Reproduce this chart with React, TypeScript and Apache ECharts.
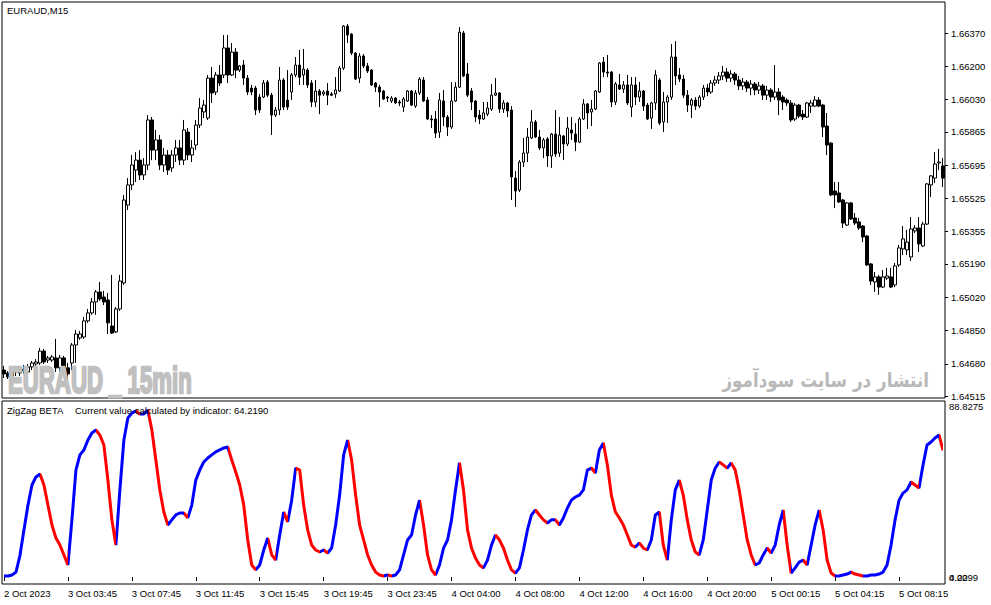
import React, { useEffect, useRef } from "react";
import * as echarts from "echarts";

const priceTicks = [1.6637, 1.662, 1.6603, 1.65865, 1.65695, 1.65525, 1.65355, 1.6519, 1.6502, 1.6485, 1.6468, 1.64515];
const timeTicks = ["2 Oct 2023", "3 Oct 03:45", "3 Oct 07:45", "3 Oct 11:45", "3 Oct 15:45", "3 Oct 19:45", "3 Oct 23:45", "4 Oct 04:00", "4 Oct 08:00", "4 Oct 12:00", "4 Oct 16:00", "4 Oct 20:00", "5 Oct 00:15", "5 Oct 04:15", "5 Oct 08:15"];

// EURAUD M15, price x 100000 : [open, close, low, high]
const ohlcPoints = [
  [164648,164628,164607,164669],[164633,164613,164602,164643],[164618,164638,164602,164659],[164638,164648,164618,164669],[164633,164659,164618,164669],
  [164653,164643,164628,164674],[164638,164664,164628,164679],[164664,164684,164648,164694],[164679,164689,164669,164704],[164684,164745,164674,164761],
  [164745,164689,164679,164756],[164699,164710,164684,164720],[164699,164715,164689,164725],[164710,164659,164638,164807],[164659,164710,164638,164725],
  [164710,164659,164638,164720],[164659,164628,164597,164684],[164684,164776,164648,164786],[164776,164832,164684,164853],[164812,164832,164802,164848],
  [164817,164899,164807,164919],[164899,164940,164889,164960],[164940,164996,164930,165016],[164996,165047,164930,165057],[165047,165011,165001,165098],
  [165021,164996,164980,165052],[165006,164889,164832,165042],[164873,164837,164832,165134],[164843,164960,164837,164970],[164960,165103,164950,165134],
  [165093,165517,165083,165543],[165491,165594,165466,165629],[165594,165696,165568,165747],[165670,165721,165609,165762],[165721,165645,165619,165772],
  [165645,165696,165619,165731],[165696,165926,165670,165951],[165926,165772,165721,165941],[165772,165824,165721,165875],[165824,165696,165670,165849],
  [165696,165747,165660,165783],[165747,165670,165645,165772],[165681,165747,165660,165772],[165747,165783,165711,165824],[165783,165721,165696,165824],
  [165721,165875,165696,165926],[165864,165747,165721,165885],[165747,165783,165711,165824],[165798,165900,165772,165926],[165900,165987,165885,166038],
  [165967,166002,165936,166028],[165936,166140,165926,166156],[166140,166064,166013,166197],[166069,166156,166053,166171],[166156,166115,166100,166207],
  [166156,166294,166140,166360],[166294,166156,166115,166360],[166156,166273,166151,166319],[166273,166181,166140,166294],[166181,166202,166171,166207],
  [166207,166140,166105,166232],[166140,166069,166053,166156],[166089,166069,166053,166105],[166089,165977,165951,166100],[166043,165977,165962,166059],
  [166043,166115,166038,166130],[166120,166053,166043,166130],[166053,165951,165849,166064],[165951,165977,165941,165992],[165977,166130,165951,166197],
  [166130,165992,165977,166140],[166028,165992,165977,166181],[166069,166156,166028,166166],[166156,166207,166145,166248],[166207,166145,166105,166284],
  [166156,166186,166105,166289],[166181,166105,166089,166191],[166115,166018,165992,166130],[166018,166074,165992,166130],[166074,166053,165956,166084],
  [166059,166069,166048,166079],[166074,166053,166002,166115],[166059,166053,166048,166069],[166059,166079,166038,166145],[166074,166191,166069,166202],
  [166191,166406,166181,166411],[166406,166360,166319,166416],[166365,166268,166258,166370],[166268,166135,166130,166273],[166140,166253,166115,166268],
  [166253,166202,166191,166263],[166202,166176,166166,166217],[166181,166105,166100,166186],[166115,166094,166069,166120],[166094,166069,165992,166105],
  [166074,166033,166028,166079],[166043,166038,166018,166048],[166023,166038,166013,166048],[166038,166013,166008,166043],[166018,166013,165997,166028],
  [165992,166033,165967,166043],[166023,166074,166018,166079],[166074,166002,165997,166079],[165997,166064,165987,166079],[166064,166135,166053,166145],
  [166130,166023,166018,166145],[166028,165931,165926,166043],[165931,165926,165885,165951],[165931,165859,165834,165972],[165864,166028,165834,166064],
  [166023,165941,165895,166079],[165941,165890,165844,165951],[165890,166023,165880,166120],[166023,166094,166018,166120],[166094,166375,166089,166401],
  [166370,166151,166145,166381],[166161,166053,166043,166217],[166074,166018,165977,166089],[166023,165941,165916,166028],[165951,165931,165905,165977],
  [165931,165962,165926,166018],[165956,165987,165946,166018],[165982,166053,165972,166110],[166053,166064,166048,166140],[166064,165982,165962,166069],
  [165982,166013,165962,166028],[166013,165972,165941,166018],[165977,165635,165517,165997],[165629,165563,165481,165665],[165568,165711,165558,165721],
  [165711,165757,165686,165834],[165757,165839,165711,165885],[165834,165916,165829,165977],[165916,165839,165834,165926],[165839,165783,165772,165875],
  [165783,165824,165731,165834],[165829,165742,165686,165839],[165742,165854,165681,165859],[165854,165752,165737,165977],[165757,165849,165737,165941],
  [165844,165803,165721,165849],[165803,165885,165793,165941],[165875,165859,165824,165941],[165854,165813,165767,165910],[165813,165931,165808,165941],
  [165931,166008,165926,166033],[166008,165962,165880,166013],[165967,165982,165895,166028],[165982,166074,165977,166079],[166069,166217,166064,166222],
  [166222,166171,166145,166248],[166171,166166,166145,166258],[166171,166018,165992,166176],[166018,166110,166002,166120],[166105,166084,166079,166161],
  [166084,166105,166064,166125],[166105,166013,166002,166156],[165992,166105,165941,166145],[166105,166043,166002,166145],[166043,166074,166018,166120],
  [166074,165997,165972,166079],[166002,165931,165926,166013],[165936,166013,165880,166018],[166013,166156,165977,166181],[166130,165910,165900,166140],
  [165916,166018,165864,166069],[166018,166043,165910,166053],[166043,166248,166028,166314],[166248,166151,166105,166329],[166156,166135,166120,166191],
  [166135,166053,166038,166156],[166053,166002,165967,166079],[166002,166028,165936,166038],[166028,165997,165977,166043],[165997,166043,165987,166053],
  [166043,166089,166028,166105],[166089,166069,166048,166110],[166069,166115,166059,166130],[166115,166130,166100,166151],[166130,166151,166110,166171],
  [166151,166171,166130,166202],[166171,166140,166120,166191],[166140,166161,166120,166181],[166161,166130,166105,166171],[166130,166100,166079,166151],
  [166100,166120,166079,166140],[166120,166089,166069,166130],[166089,166110,166053,166130],[166110,166079,166053,166120],[166079,166100,166059,166120],
  [166100,166053,166028,166110],[166053,166079,166028,166100],[166079,166043,166018,166089],[166043,166069,166028,166207],[166069,166028,165951,166089],
  [166043,166018,165977,166053],[166028,166013,165997,166038],[166013,165926,165916,166028],[165931,166002,165921,166013],[166002,165946,165936,166008],
  [165956,165941,165926,165977],[165941,166013,165936,166018],[165997,166013,165962,166028],[165997,166028,165992,166048],[166028,165997,165992,166043],
  [166002,165890,165839,166008],[165895,165798,165747,165962],[165808,165543,165537,165813],[165563,165543,165476,165609],[165553,165507,165502,165609],
  [165517,165399,165374,165522],[165389,165502,165384,165507],[165502,165420,165415,165507],[165425,165399,165389,165451],[165405,165374,165364,165425],
  [165384,165328,165302,165389],[165333,165185,165180,165338],[165190,165103,165083,165195],[165098,165124,165047,165149],[165124,165072,165032,165134],
  [165072,165124,165067,165159],[165118,165129,165108,165170],[165124,165072,165067,165170],[165083,165180,165072,165195],[165185,165272,165175,165287],
  [165267,165318,165236,165384],[165262,165302,165236,165364],[165226,165369,165205,165430],[165359,165374,165348,165389],[165374,165292,165251,165430],
  [165282,165394,165277,165405],[165394,165599,165389,165604],[165594,165640,165532,165645],[165629,165701,165604,165762],[165706,165711,165670,165778],
  [165691,165629,165583,165731],
];

// ZigZag BETA indicator value per bar
const zigzag = [
  0.5,0.5,1,2.5,11,24,36.5,46.7,50.8,52.3,
  46.7,36.5,26.4,19.8,16.2,11.2,6.1,29,54.3,62,
  64.5,69.5,73.1,74.6,72,67,49.2,29,16.2,44.2,
  69.5,80.7,83.2,84.3,82.7,82.7,84.8,74.6,59.4,44.2,
  33,26.4,29,31.5,32.5,32.5,30,36.5,49.2,54.3,
  58.4,60.4,62,63.5,64.5,65.5,66,59.4,53.3,46.7,
  36.5,18.8,6.1,3.6,6.1,13.7,19.8,11.2,8.6,21.3,
  33,28,39,55.3,54.3,36.5,23.9,16.2,13.7,12.7,
  13.7,12.2,14.7,26.4,41.6,62,69.5,59.4,41.6,26.4,
  18.8,11.2,6.1,2.5,1,0.5,1,0.5,1,3.6,
  11.2,18.8,21.3,31.5,39,26.4,11.2,3.6,1,6.1,
  14.7,18.8,29,44.2,58,44.2,23.9,14.7,9.6,6.1,
  4.6,8.6,16.2,21.3,18.8,14.7,8.6,3.6,2,4.6,
  13.7,23.9,31.5,34,31.5,29,27.4,29,29,26.4,
  30,35,39,40.6,41.6,44.2,54.3,55.3,52.8,64.5,
  68,56.9,41.6,33,30,26.4,21.3,16.2,15.2,17.3,
  14.7,13.7,18.8,31.5,33,16.2,8.6,29,44.2,49.2,
  41.6,29,18.8,12.7,11.2,18.8,34,49.2,55.3,58.4,
  56.9,55.3,57.9,54.3,44.2,31.5,18.8,11.2,6.1,7.1,
  11.2,14.7,12.2,16.2,26.4,34,16.2,2,4.6,7.6,
  8.6,6.1,16.2,26.4,34,23.9,8.6,2,0.5,0.5,
  1,1.5,2.5,1.5,1,0.5,0.5,1,1,1.5,
  2.5,6.1,16.2,28.9,39,42.6,44.2,48.2,46.7,45.2,
  56.8,67,68.5,70.6,72.1,64.219,
];

const indicatorLabels = ["88.8275", "0.00", "4.2299"];
const FONT = "Liberation Sans, Arial, sans-serif";

export default function App() {
  const ref = useRef<HTMLDivElement>(null);
  useEffect(() => {
    const chart = echarts.init(ref.current as HTMLDivElement, null, { renderer: "svg" });
    const cats = ohlcPoints.map((_, i) => String(i));
    const candles = ohlcPoints.map((r) => r.map((v) => v / 100000));
    const pieces: any[] = [];
    for (let i = 0; i < zigzag.length - 1; i++) {
      const p: any = { gte: i, color: zigzag[i + 1] >= zigzag[i] ? "#0000ff" : "#ff0000" };
      if (i === zigzag.length - 2) p.lte = i + 1; else p.lt = i + 1;
      pieces.push(p);
    }
    const every16 = (i: number) => i % 16 === 0;
    const txt = (text: string, x: number, y: number, extra: any = {}) => ({
      type: "text", x, y, z: 20, silent: true,
      style: { text, fill: "#000", font: `9.5px ${FONT}`, textAlign: "left", align: "left", textVerticalAlign: "middle", verticalAlign: "middle", ...extra },
    });
    chart.setOption({
      animation: false,
      backgroundColor: "#fff",
      grid: [
        { left: 2, top: 2, width: 943, height: 396, show: true, borderColor: "#000", borderWidth: 1 },
        { left: 2, top: 401, width: 943, height: 183, show: true, borderColor: "#000", borderWidth: 1 },
      ],
      xAxis: [
        { type: "category", gridIndex: 0, data: cats, show: false, boundaryGap: true },
        {
          type: "category", gridIndex: 1, data: cats, boundaryGap: true,
          axisLine: { show: false },
          axisTick: { show: true, interval: every16, alignWithLabel: true, length: 4, lineStyle: { color: "#000" } },
          axisLabel: {
            interval: every16, formatter: (_v: string, i: number) => timeTicks[i / 16] ?? "",
            align: "left", margin: 4, color: "#000", fontSize: 9.5, fontFamily: FONT,
          },
        },
      ],
      yAxis: [
        {
          type: "value", gridIndex: 0, position: "right", min: 1.64505, max: 1.66529, scale: true,
          splitLine: { show: false }, axisLine: { show: false },
          axisTick: { show: true, customValues: priceTicks, length: 3, lineStyle: { color: "#000" } },
          axisLabel: { customValues: priceTicks, formatter: (v: number) => v.toFixed(5), color: "#000", fontSize: 9.5, fontFamily: FONT, margin: 6 },
        },
        {
          type: "value", gridIndex: 1, position: "right", min: -3.55, max: 89.34,
          splitLine: { show: false }, axisLine: { show: false }, axisTick: { show: false }, axisLabel: { show: false },
        },
      ],
      visualMap: { show: false, type: "piecewise", dimension: 0, seriesIndex: 1, pieces },
      series: [
        {
          type: "candlestick", xAxisIndex: 0, yAxisIndex: 0, data: candles, barWidth: 3,
          itemStyle: { color: "#fff", color0: "#000", borderColor: "#000", borderColor0: "#000", borderColorDoji: "#000", borderWidth: 1 },
        },
        {
          type: "line", xAxisIndex: 1, yAxisIndex: 1, data: zigzag, showSymbol: false, symbol: "none",
          lineStyle: { width: 3 },
        },
      ],
      graphic: [
        txt("EURAUD,M15", 7, 10),
        {
          type: "text", x: 8, y: 380, z: 30, scaleX: 0.6, silent: true,
          style: { text: "EURAUD _ 15min", fill: "#c0c0c0", stroke: "#c0c0c0", lineWidth: 2.5, font: `bold 37px ${FONT}`, textAlign: "left", align: "left", textVerticalAlign: "middle", verticalAlign: "middle" },
        },
        {
          type: "text", x: 929, y: 380, z: 30, scaleX: 0.84, silent: true,
          style: { text: "انتشار در سایت سودآموز", fill: "#b9b9b9", font: "bold 20px DejaVu Sans", textAlign: "right", align: "right", textVerticalAlign: "middle", verticalAlign: "middle" },
        },
        txt("ZigZag BETA", 7, 410),
        txt("Current value calculated by indicator: " + zigzag[zigzag.length - 1].toFixed(4), 75, 410),
        txt(indicatorLabels[0], 949, 406),
        txt(indicatorLabels[1], 949, 577),
        txt(indicatorLabels[2], 949, 577),
      ],
    });
    return () => chart.dispose();
  }, []);
  return <div ref={ref} style={{ position: "absolute", left: 0, top: 0, width: 991, height: 605, background: "#fff" }} />;
}
